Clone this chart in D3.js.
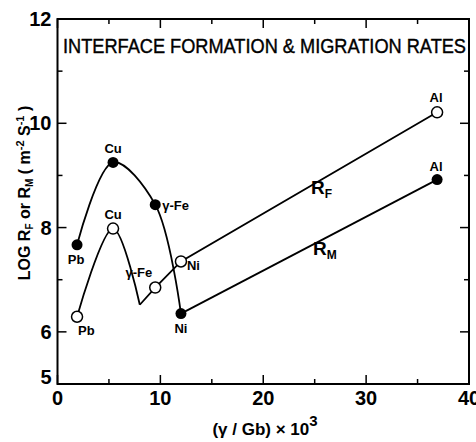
<!DOCTYPE html>
<html><head><meta charset="utf-8">
<script src="https://cdn.jsdelivr.net/npm/d3@7"></script>
<style>body{margin:0;background:#fff}svg{display:block}text{font-family:"Liberation Sans",Arial,sans-serif;fill:#000}</style>
</head><body>
<svg id="c" width="476" height="442"></svg>
<script>
// Data
const elements = ["Pb","Cu","γ-Fe","Ni","Al"];
const xValues = [1.9, 5.4, 9.5, 12.0, 36.9];
const filledY = [7.67, 9.25, 8.44, 6.35, 8.92];   // filled circles
const openY   = [6.29, 7.98, 6.85, 7.35, 10.21];  // open circles
const openKink = {x: 8.0, y: 6.52};               // sharp minimum on open curve
const xTicks = [0,10,20,30,40];
const yTicks = [5,6,8,10,12];

const svg = d3.select("#c");
const x = d3.scaleLinear().domain([0,40]).range([57.5,469]);
const y = d3.scaleLinear().domain([5,12]).range([384,19]);

// frame
svg.append("rect").attr("x",x(0)).attr("y",y(12)).attr("width",x(40)-x(0)).attr("height",y(5)-y(12))
  .attr("fill","none").attr("stroke","#000").attr("stroke-width",2);

// ticks (inward)
const g = svg.append("g").attr("stroke","#000").attr("stroke-width",1.5);
d3.range(0,41,5).forEach(v=>{
  const L = v%10===0 ? 9 : 5;
  g.append("line").attr("x1",x(v)).attr("x2",x(v)).attr("y1",y(5)).attr("y2",y(5)-L);
  g.append("line").attr("x1",x(v)).attr("x2",x(v)).attr("y1",y(12)).attr("y2",y(12)+L);
});
d3.range(5,13,1).forEach(v=>{
  const L = v%2===0 ? 9 : 5;
  g.append("line").attr("x1",x(0)).attr("x2",x(0)+L).attr("y1",y(v)).attr("y2",y(v));
  g.append("line").attr("x1",x(40)).attr("x2",x(40)-L).attr("y1",y(v)).attr("y2",y(v));
});

// tick labels
xTicks.forEach(v=>{
  svg.append("text").attr("x",x(v)).attr("y",405).attr("text-anchor","middle")
    .attr("font-size",20).attr("font-weight","bold").text(v);
});
yTicks.forEach(v=>{
  svg.append("text").attr("x",x(0)-6).attr("y",y(v)+(v===5?0:7)).attr("text-anchor","end")
    .attr("font-size",20).attr("font-weight","bold").text(v);
});

// curves
const line = d3.line().x(d=>x(d.x)).y(d=>y(d.y));
const pts = (ys)=>ys.map((v,i)=>({x:xValues[i],y:v,name:elements[i]}));
const F = pts(filledY), O = pts(openY);
function path(data, curve){
  svg.append("path").attr("d", line.curve(curve)(data))
    .attr("fill","none").attr("stroke","#000").attr("stroke-width",1.8);
}
path(F.slice(0,4), d3.curveCatmullRom.alpha(0.5));
path(F.slice(3), d3.curveLinear);
path([O[0],O[1],openKink], d3.curveCatmullRom.alpha(0.5));
path([openKink, O[2], O[3], O[4]], d3.curveLinear);

// markers
svg.selectAll("circle.f").data(F).enter().append("circle")
  .attr("cx",d=>x(d.x)).attr("cy",d=>y(d.y)).attr("r",5.5).attr("fill","#000");
svg.selectAll("circle.o").data(O).enter().append("circle")
  .attr("cx",d=>x(d.x)).attr("cy",d=>y(d.y)).attr("r",5.5).attr("fill","#fff")
  .attr("stroke","#000").attr("stroke-width",1.5);

// point labels
const lab = (txt, px, py, dx, dy, anchor)=>svg.append("text").attr("x",x(px)+dx).attr("y",y(py)+dy)
  .attr("text-anchor",anchor||"middle").attr("font-size",13).attr("font-weight","bold").text(txt);
lab(elements[0], xValues[0], filledY[0], -1, 19);
lab(elements[1], xValues[1], filledY[1], 0, -9);
lab(elements[2], xValues[2], filledY[2], 7, 5, "start");
lab(elements[3], xValues[3], filledY[3], 0, 19);
lab(elements[4], xValues[4], filledY[4], -1, -9);
lab(elements[0], xValues[0], openY[0], 1, 18, "start");
lab(elements[1], xValues[1], openY[1], 0, -10);
lab(elements[2], xValues[2], openY[2], -3, -11, "end");
lab(elements[3], xValues[3], openY[3], 6, 9, "start");
lab(elements[4], xValues[4], openY[4], -1, -10);

// series labels
const rl = (sub, px, py)=>{
  const t = svg.append("text").attr("x",px).attr("y",py).attr("font-size",19).attr("font-weight","bold");
  t.append("tspan").text("R");
  t.append("tspan").attr("font-size",12).attr("dy",4).text(sub);
};
rl("F", 311, 194);
rl("M", 313, 255);

// title
svg.append("text").attr("x",63).attr("y",53).attr("font-size",20)
  .attr("stroke","#000").attr("stroke-width",0.4)
  .attr("textLength",403).attr("lengthAdjust","spacingAndGlyphs")
  .text("INTERFACE  FORMATION & MIGRATION RATES");

// axis titles
const xt = svg.append("text").attr("x",265).attr("y",435).attr("text-anchor","middle").attr("font-size",17).attr("font-weight","bold");
xt.append("tspan").text("(γ / Gb) × 10");
xt.append("tspan").attr("dy",-9).attr("font-size",15).text("3");

const yt = svg.append("text").attr("transform","translate(30,193) rotate(-90)")
  .attr("text-anchor","middle").attr("font-size",16).attr("font-weight","bold");
yt.append("tspan").text("LOG R");
yt.append("tspan").attr("font-size",10).attr("dy",3).text("F");
yt.append("tspan").attr("dy",-3).text(" or R");
yt.append("tspan").attr("font-size",10).attr("dy",3).text("M");
yt.append("tspan").attr("dy",-3).text(" ( m");
yt.append("tspan").attr("font-size",11).attr("dy",-6).text("-2");
yt.append("tspan").attr("dy",6).text(" S");
yt.append("tspan").attr("font-size",11).attr("dy",-6).text("-1");
yt.append("tspan").attr("dy",6).text(" )");
</script>
</body></html>
